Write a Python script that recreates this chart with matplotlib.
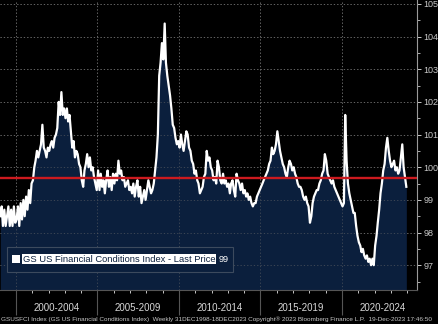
import matplotlib
matplotlib.use("Agg")
import matplotlib.pyplot as plt
import matplotlib.dates as mdates
import matplotlib.transforms as mtrans
from matplotlib.patches import Rectangle
from matplotlib.ticker import FixedLocator, MultipleLocator
import pandas as pd
import datetime as dt

# ---- data (monthly readings of GSUSFCI) ----
v1999 = [98.5, 98.8, 98.2, 98.7, 98.2, 98.5, 98.8, 98.2, 98.7, 98.2, 98.8, 98.3]
v2000 = [98.4, 98.8, 98.2, 98.9, 98.4, 99.0, 98.5, 99.1, 98.7, 99.3, 98.9, 99.5]
v2001 = [99.6, 100.0, 100.2, 100.5, 100.3, 100.5, 100.7, 101.3, 100.6, 100.5, 100.3, 100.6]
v2002 = [100.5, 100.7, 100.8, 100.6, 100.9, 101.0, 101.2, 102.0, 101.6, 102.3, 101.6, 101.8]
v2003 = [101.5, 101.8, 101.4, 101.6, 101.1, 100.6, 100.8, 100.3, 100.5, 100.4, 100.1, 100.0]
v2004 = [99.6, 99.4, 99.9, 100.1, 100.4, 100.0, 100.3, 99.9, 100.0, 99.7, 99.5, 99.3]
v2005 = [99.9, 99.3, 99.8, 99.4, 99.6, 99.2, 99.6, 99.9, 99.4, 99.7, 99.3, 99.8]
v2006 = [99.5, 99.8, 99.6, 100.2, 99.8, 99.9, 99.6, 99.7, 99.4, 99.5, 99.6, 99.3]
v2007 = [99.4, 99.2, 99.5, 99.1, 99.4, 99.6, 99.1, 99.4, 98.9, 99.1, 99.3, 99.0]
v2008 = [99.3, 99.6, 99.4, 99.2, 99.3, 99.5, 99.9, 100.3, 101.0, 102.8, 103.2, 103.8]
v2009 = [103.3, 104.4, 103.2, 102.8, 102.5, 102.2, 101.8, 101.3, 101.2, 100.9, 100.7, 100.8]
v2010 = [100.6, 101.0, 100.7, 100.5, 100.8, 101.1, 101.0, 100.6, 100.5, 100.2, 100.1, 99.8]
v2011 = [99.9, 99.6, 99.5, 99.2, 99.3, 99.4, 99.7, 99.8, 100.5, 100.2, 100.3, 100.0]
v2012 = [99.9, 99.6, 99.7, 99.5, 100.2, 100.0, 99.6, 99.5, 99.8, 99.5, 99.6, 99.4]
v2013 = [99.5, 99.2, 99.5, 99.6, 99.3, 99.1, 99.8, 99.6, 99.5, 99.3, 99.5, 99.2]
v2014 = [99.3, 99.1, 99.2, 99.0, 99.1, 98.9, 98.8, 98.9, 98.9, 99.1, 99.2, 99.3]
v2015 = [99.4, 99.5, 99.6, 99.7, 99.8, 99.9, 100.1, 100.2, 100.6, 100.4, 100.5, 100.7]
v2016 = [101.1, 100.8, 100.5, 100.3, 100.1, 100.0, 99.8, 99.7, 100.0, 100.2, 100.1, 99.9]
v2017 = [100.0, 99.8, 99.7, 99.5, 99.4, 99.4, 99.3, 99.1, 99.0, 99.1, 98.9, 98.8]
v2018 = [98.3, 98.5, 98.9, 99.1, 99.2, 99.3, 99.3, 99.5, 99.6, 99.8, 99.9, 100.4]
v2019 = [100.2, 99.8, 99.7, 99.6, 99.5, 99.6, 99.4, 99.3, 99.2, 99.1, 99.0, 98.9]
v2020 = [98.8, 98.9, 101.6, 100.2, 99.5, 99.2, 99.0, 98.8, 98.6, 98.6, 98.2, 97.9]
v2021 = [97.7, 97.6, 97.4, 97.5, 97.3, 97.2, 97.3, 97.1, 97.2, 97.0, 97.2, 97.0]
v2022 = [97.6, 97.9, 98.3, 98.7, 99.2, 99.5, 99.9, 100.1, 100.6, 100.9, 100.5, 100.2]
v2023 = [100.0, 100.1, 100.2, 99.9, 100.0, 99.8, 99.9, 100.3, 100.7, 100.0, 99.7, 99.4]

years = list(range(1999, 2024))
values = (v1999 + v2000 + v2001 + v2002 + v2003 + v2004 + v2005 + v2006 + v2007 +
          v2008 + v2009 + v2010 + v2011 + v2012 + v2013 + v2014 + v2015 + v2016 +
          v2017 + v2018 + v2019 + v2020 + v2021 + v2022 + v2023)
dates = pd.date_range("1999-01-01", periods=len(values), freq="MS") + pd.Timedelta(days=14)

ref_level = 99.66
period_labels = ["2000-2004", "2005-2009", "2010-2014", "2015-2019", "2020-2024"]
period_starts = [2000, 2005, 2010, 2015, 2020]
legend_label = "GS US Financial Conditions Index - Last Price"
last_label = "99"
footer = ("GSUSFCI Index (GS US Financial Conditions Index)  Weekly 31DEC1998-18DEC2023 "
          "Copyright\u00ae 2023 Bloomberg Finance L.P.  19-Dec-2023 17:46:50")
y_ticks = [97, 98, 99, 100, 101, 102, 103, 104, 105]

# ---- figure ----
W, H = 438, 324
fig = plt.figure(figsize=(W / 100, H / 100), dpi=100, facecolor="black")
ax = fig.add_axes([0, 1 - 290 / H, 417 / W, 290 / H], facecolor="black")

ymin, ymax = 96.24, 105.12
navy = "#0b1f3d"
ax.fill_between(dates, values, ymin, color=navy, lw=0, zorder=2)
ax.plot(dates, values, color="white", lw=1.6, zorder=3)
ax.axhline(ref_level, color="#cc1a1f", lw=1.7, zorder=4)

x0 = dt.datetime(1999, 1, 8)
x1 = dt.datetime(2024, 8, 10)
ax.set_xlim(x0, x1)
ax.set_ylim(ymin, ymax)

# grid
for y in y_ticks:
    ax.axhline(y, color="#6a6a6a", lw=0.6, ls=(0, (1.5, 2.5)), zorder=1.5)
    ax.axhline(y, color="#6a6a6a", lw=0.6, ls=(0, (1.5, 2.5)), zorder=2.5, alpha=0.6)
for yr in period_starts:
    d = dt.datetime(yr, 1, 1)
    ax.axvline(d, color="#6a6a6a", lw=0.6, ls=(0, (1.5, 2.5)), zorder=1.5)
    ax.axvline(d, color="#6a6a6a", lw=0.6, ls=(0, (1.5, 2.5)), zorder=2.5, alpha=0.6)

# y axis on the right
ax.yaxis.tick_right()
ax.yaxis.set_major_locator(FixedLocator(y_ticks))
ax.yaxis.set_minor_locator(MultipleLocator(0.5))
ax.tick_params(axis="y", which="major", colors="#c8c8c8", labelsize=6.5,
               length=3, width=0.7, pad=1.5)
ax.tick_params(axis="y", which="minor", colors="#c8c8c8", length=2, width=0.6)
for lab in ax.get_yticklabels():
    lab.set_family(["Liberation Sans", "DejaVu Sans"])

# x axis ticks: yearly small ticks, long separators every five years
ax.xaxis.set_major_locator(FixedLocator([mdates.date2num(dt.datetime(y, 1, 1)) for y in period_starts]))
ax.xaxis.set_minor_locator(FixedLocator([mdates.date2num(dt.datetime(y, 1, 1)) for y in years[1:] + [2024]]))
ax.tick_params(axis="x", which="major", colors="#555555", length=18, width=0.8, labelbottom=False)
ax.tick_params(axis="x", which="minor", colors="#c8c8c8", length=2.5, width=0.7)

for s in ["top", "left"]:
    ax.spines[s].set_visible(False)
ax.spines["right"].set_color("#9a9a9a")
ax.spines["right"].set_linewidth(0.8)
ax.spines["bottom"].set_color("#555555")
ax.spines["bottom"].set_linewidth(0.8)

blend = mtrans.blended_transform_factory(ax.transData, fig.transFigure)
for lab, y0 in zip(period_labels, period_starts):
    mid = dt.datetime(y0 + 2, 7, 1)
    ax.text(mid, 1 - 308 / H, lab, transform=blend, ha="center", va="center",
            color="#d8d8d8", fontsize=7, family=["Liberation Sans", "DejaVu Sans"])

# legend box
fig.patches.append(Rectangle((7 / W, 1 - 272 / H), 226 / W, 25 / H, transform=fig.transFigure,
                             facecolor=navy, edgecolor="#3c4a5e", lw=0.8, zorder=5))
fig.patches.append(Rectangle((12 / W, 1 - 263 / H), 8 / W, 8 / H, transform=fig.transFigure,
                             facecolor="white", edgecolor="none", zorder=6))
fig.text(23 / W, 1 - 259 / H, legend_label, ha="left", va="center", color="#0b1f3d",
         fontsize=6.75, family=["Liberation Sans", "DejaVu Sans"], zorder=7,
         bbox=dict(facecolor="white", edgecolor="none", pad=0.6))
fig.text(219 / W, 1 - 259 / H, last_label, ha="left", va="center", color="white",
         fontsize=6.6, family=["Liberation Sans", "DejaVu Sans"], zorder=7)

# footer
fig.text(1 / W, 1 - 319 / H, footer, ha="left", va="center", color="#c8c8c8",
         fontsize=4.6, family=["Liberation Sans Narrow", "Liberation Sans", "DejaVu Sans"])

fig.savefig("out.png", dpi=100, facecolor="black")
